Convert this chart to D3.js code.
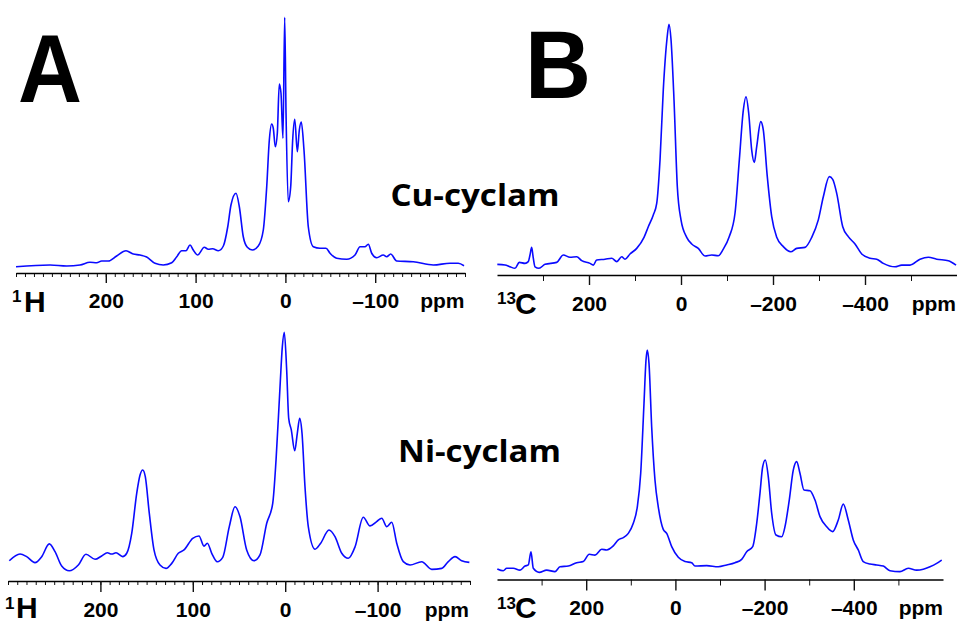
<!DOCTYPE html>
<html><head><meta charset="utf-8">
<script src="https://cdn.jsdelivr.net/npm/d3@7"></script>
<style>body{margin:0;background:#fff}svg{display:block}</style>
</head><body><svg id="c" width="957" height="624"></svg>
<script>
// ---------- DATA (ppm, relative intensity) ----------
const cuH = [[300,0.5],[262.1,1.2],[243.5,0.8],[228.7,1.2],[217.6,2.3],[210.1,2.1],[204.6,2.8],[197.2,2.8],[187.9,4.8],[177.5,6.9],[169.4,5.6],[161.9,5.2],[154.5,4.4],[145.2,1.9],[136,1.2],[126.6,2.1],[121,4.5],[115.5,6.9],[110.7,6.9],[106.2,9.2],[102.6,7.2],[97.7,5.2],[90.3,8.3],[85.9,7.5],[81,7.7],[74.7,6.9],[69.1,8.8],[64.2,16.5],[60.6,25.2],[55,29.9],[51.3,24.5],[46.9,12.5],[42.4,8.3],[36.9,7.2],[30.2,8.8],[24.6,15.2],[20.8,32.5],[17.9,51.2],[15.3,57.6],[13.5,55.9],[11.2,48.5],[9,53.9],[6.8,73.6],[4.9,69.9],[2.7,51.9],[0.8,100.3],[-0.7,62],[-3.2,26.5],[-5.9,32.5],[-8.1,51.2],[-10.4,59.5],[-13.3,46.5],[-15.5,55.2],[-17.7,58.4],[-20.7,47.2],[-25.5,16.5],[-31.1,8.5],[-38.5,7.9],[-45.2,7.9],[-49.7,5.9],[-57.1,3.9],[-68.3,3.5],[-77.5,5.2],[-83.1,8.5],[-88.6,8.5],[-92.3,9.5],[-96.1,5.9],[-101.7,4.1],[-109,5.2],[-112.8,4.5],[-117.3,5.6],[-123.9,2.8],[-142.4,2.5],[-164.7,1.2],[-183.3,1.9],[-192.5,1.9],[-198.9,0.9]];

const niH = [[298.6,4.7],[287,7.5],[279.8,6.4],[270.8,3.9],[263.5,6.4],[255.3,11.7],[249.1,8.5],[241.9,2.5],[233.7,0.5],[223.9,2.9],[215.6,7.4],[205.8,5.3],[198.6,6.7],[192.5,8.0],[187.8,7.5],[183.1,8.0],[175.9,6.4],[171.5,7.8],[166.1,16.1],[160.7,32.8],[157.1,40.4],[154.2,42.5],[151.4,39.7],[147.1,24.5],[142,9.2],[135.5,2.9],[129,1.5],[122.8,3.6],[115.7,7.8],[109.5,9.2],[100.1,14],[93.3,15],[87.9,10.8],[84.3,12],[79.5,7.8],[73.5,4.3],[67.6,6.1],[60.5,18.9],[54.3,27.2],[48.9,23],[41.7,9.2],[33.8,4.7],[27.3,7.1],[20,20.3],[13.5,28.6],[9.9,46.7],[5.6,77.2],[3.1,93.9],[1,99.9],[-1.6,84.2],[-3.8,64],[-6.6,59.2],[-10.3,50.5],[-13.1,57.8],[-15.7,64],[-18.2,57.8],[-21.4,35.6],[-25,18.9],[-32.3,9.5],[-38.4,12],[-47.4,17.5],[-53.9,14.7],[-61.2,7.8],[-68.3,5.7],[-75.6,10.5],[-84.5,22.8],[-91.8,19.2],[-99,21],[-104.5,22.4],[-109.9,18.9],[-115.3,20.7],[-120.7,12],[-127.8,4.3],[-135.1,2.9],[-147.7,4.3],[-158.6,1.1],[-169.4,1.5],[-176.5,4.3],[-183.8,6.4],[-191,4.7],[-199.3,4]];

const cuC = [[399.3,2.3],[382.6,2.0],[371.7,1.3],[360.9,0.7],[351.5,3.1],[339.1,2.7],[332,3.4],[328.3,6.1],[324.6,9.2],[321.1,4.8],[317.4,1.3],[308.7,0.7],[295.6,2.3],[270.2,3.1],[255.9,6.1],[241.3,5.2],[226.7,5.4],[215.9,3.8],[197.8,2.7],[190.6,2.0],[183.3,4.1],[165.2,4.4],[150.6,4.8],[139.8,3.4],[128.9,5.4],[121.7,4.4],[110.9,6.5],[96.3,8.8],[80.4,13.3],[71.1,17.6],[60.2,22.4],[52.8,27.1],[45.6,44.8],[38.5,73.3],[30.5,94],[26.1,100],[21.8,94],[15.2,69.2],[8,33.9],[0,20.4],[-12.4,13.3],[-23.3,10.6],[-37.6,8.8],[-52.2,5.7],[-66.8,6.1],[-81.1,5.8],[-90.7,8.1],[-105,13.6],[-117.4,23.1],[-126.8,44.8],[-135.5,65.1],[-141.3,70.5],[-147.2,63.8],[-153.7,48.8],[-159.4,43.8],[-164.6,50.2],[-173.3,60.4],[-178.9,57],[-187.6,38],[-197.2,21.7],[-208.1,13.3],[-222.4,9.5],[-238.5,7.4],[-251.5,8.8],[-269.6,9.2],[-284.2,13.3],[-298.5,20.4],[-309.4,29.8],[-322.4,38],[-329.8,36.9],[-338.5,31.2],[-351.6,17.6],[-363.7,13.6],[-378.3,10.6],[-392.9,6.5],[-410.9,4.8],[-425.5,4.4],[-439.8,2.7],[-465.3,1.3],[-479.8,2.0],[-497.9,2.0],[-519.6,4.4],[-537.7,5.2],[-555.9,4.4],[-581.1,3.8],[-597.9,2.0]];

const niC = [[399.3,1.8],[385.9,1.0],[378.3,2.1],[363.5,2.1],[348.4,1.3],[337.2,3.1],[329.8,3.6],[323.8,9.5],[318.6,2.1],[305.2,0.3],[288.6,1.3],[270,0.6],[258.8,2.8],[240.1,3.1],[221.3,4.6],[206.5,5.1],[193.1,8.4],[180.3,8.0],[165.3,10.6],[154.1,10.3],[139.3,12.1],[128,14.8],[116.8,15.8],[105.6,17.7],[94.4,22.2],[85.4,29.6],[77.8,44.6],[70.4,75.9],[65.9,95.2],[63,99.7],[59.2,93.7],[53.2,65.4],[45.8,41.6],[38.4,29.6],[27.2,19.5],[19.5,17.7],[8.3,11.8],[-6.5,7.0],[-21.5,5.1],[-36.5,4.6],[-43.9,3.1],[-70.2,3.3],[-96.2,2.8],[-115,3.6],[-133.6,4.6],[-148.6,6.1],[-159.8,9.5],[-173.3,11.8],[-182.3,22.2],[-189.6,35.6],[-195.7,47.5],[-201.5,50.5],[-208.3,43],[-215.9,26.7],[-225.5,17],[-238.3,16.2],[-245.7,20.7],[-255.3,32.6],[-264.3,46],[-271.9,49.8],[-279.3,44.6],[-288.3,37.1],[-301.7,36.8],[-313,32.6],[-324.2,25.2],[-339.2,20.7],[-352.6,18.5],[-365.2,23.7],[-376.4,30.8],[-387.6,23.7],[-398.8,14.8],[-410,10.3],[-421.2,5.1],[-436.3,4.0],[-451.3,3.6],[-466.1,3.1],[-481.1,1.0],[-503.5,0.6],[-522.1,2.1],[-540.9,1.3],[-555.8,1.7],[-570.8,2.8],[-585.8,4.3],[-597,5.8]];

const hMajorTicks = [200, 100, 0, -100];
const hTickLabels = ["200", "100", "0", "\u2013100"];
const hMinorTicks = d3.range(300, -201, -10);
const cMajorTicks = [200, 0, -200, -400];
const cTickLabels = ["200", "0", "\u2013200", "\u2013400"];
const cMinorTicks = [300, 100, -100, -300, -500];
const panelLetters = ["A", "B"];
const sampleNames = ["Cu-cyclam", "Ni-cyclam"];
const unitLabel = "ppm";

// ---------- LAYOUT ----------
const svg = d3.select("#c");
const LAB_FONT = "'Liberation Sans', Arial, Helvetica, sans-serif";

const panels = [
  {data: cuH, dom: [300, -200], xr: [16, 465], yr: [268, 18], axisY: 273,
   major: hMajorTicks, labels: hTickLabels, minor: hMinorTicks, minorLen: 4, majorLen: 10,
   labelY: 308, mass: "1", nuc: "H", massX: 12, massY: 302, nucX: 24, nucY: 311.5, ppmX: 464.5},
  {data: cuC, dom: [400, -600], xr: [497, 957], yr: [270, 24.3], axisY: 275,
   major: cMajorTicks, labels: cTickLabels, minor: cMinorTicks, minorLen: 6, majorLen: 10,
   labelY: 311, mass: "13", nuc: "C", massX: 497, massY: 304, nucX: 515, nucY: 314, ppmX: 956},
  {data: niH, dom: [300, -200], xr: [8, 470], yr: [572, 332], axisY: 581,
   major: hMajorTicks, labels: hTickLabels, minor: hMinorTicks, minorLen: 4, majorLen: 11,
   labelY: 617, mass: "1", nuc: "H", massX: 5, massY: 609, nucX: 16, nucY: 617.5, ppmX: 469},
  {data: niC, dom: [400, -600], xr: [497, 943], yr: [573, 349.3], axisY: 579.5,
   major: cMajorTicks, labels: cTickLabels, minor: cMinorTicks, minorLen: 6, majorLen: 11,
   labelY: 615, mass: "13", nuc: "C", massX: 497, massY: 609, nucX: 515, nucY: 617.5, ppmX: 943}
];

panels.forEach(p => {
  const x = d3.scaleLinear().domain(p.dom).range(p.xr);
  const y = d3.scaleLinear().domain([0, 100]).range(p.yr);

  // spectrum
  const line = d3.line().x(d => x(d[0])).y(d => y(d[1])).curve(d3.curveMonotoneX);
  svg.append("path").datum(p.data)
    .attr("d", line)
    .attr("fill", "none")
    .attr("stroke", "#0a0aff")
    .attr("stroke-width", 1.6)
    .attr("stroke-linejoin", "round");

  // axis: minor ticks
  const gA = svg.append("g").attr("transform", `translate(0,${p.axisY})`);
  gA.append("g")
    .call(d3.axisBottom(x).tickValues(p.minor).tickSize(p.minorLen).tickFormat("").tickSizeOuter(0))
    .call(s => s.select(".domain").remove())
    .call(s => s.selectAll(".tick line").attr("stroke", "#111").attr("stroke-width", 1));
  // axis: major ticks + labels
  gA.append("g")
    .call(d3.axisBottom(x).tickValues(p.major).tickSize(p.majorLen)
      .tickFormat((d, i) => p.labels[i]).tickSizeOuter(0))
    .call(s => s.select(".domain").attr("stroke", "#000").attr("stroke-width", 1.6))
    .call(s => s.selectAll(".tick line").attr("stroke", "#111").attr("stroke-width", 1.4))
    .call(s => s.selectAll(".tick text")
      .attr("y", p.labelY - p.axisY).attr("dy", null)
      .attr("fill", "#000")
      .style("font-family", LAB_FONT).style("font-weight", "bold").style("font-size", "21px"));

  // nucleus label
  svg.append("text").attr("x", p.massX).attr("y", p.massY)
    .style("font-family", LAB_FONT).style("font-weight", "bold")
    .style("font-size", "17px").text(p.mass);
  svg.append("text").attr("x", p.nucX).attr("y", p.nucY)
    .style("font-family", LAB_FONT).style("font-weight", "bold")
    .style("font-size", "30px").text(p.nuc);
  // unit
  svg.append("text").attr("x", p.ppmX).attr("y", p.labelY).attr("text-anchor", "end")
    .style("font-family", LAB_FONT).style("font-weight", "bold").style("font-size", "21px")
    .text(unitLabel);
});

// panel letters
svg.append("text").attr("x", 18).attr("y", 102).attr("textLength", 64).attr("lengthAdjust", "spacingAndGlyphs")
  .style("font-family", LAB_FONT).style("font-weight", "bold").style("font-size", "97px").text(panelLetters[0]);
svg.append("text").attr("x", 525).attr("y", 98).attr("textLength", 66).attr("lengthAdjust", "spacingAndGlyphs")
  .style("font-family", LAB_FONT).style("font-weight", "bold").style("font-size", "97px").text(panelLetters[1]);

// sample names
svg.append("text").attr("x", 390.5).attr("y", 205.5).attr("textLength", 169).attr("lengthAdjust", "spacingAndGlyphs")
  .style("font-family", "'Open Sans', 'Noto Sans', sans-serif").style("font-weight", "700").style("font-size", "31px")
  .text(sampleNames[0]);
svg.append("text").attr("x", 398).attr("y", 461.7).attr("textLength", 163).attr("lengthAdjust", "spacingAndGlyphs")
  .style("font-family", "'Open Sans', 'Noto Sans', sans-serif").style("font-weight", "700").style("font-size", "31px")
  .text(sampleNames[1]);
</script>
</body></html>
